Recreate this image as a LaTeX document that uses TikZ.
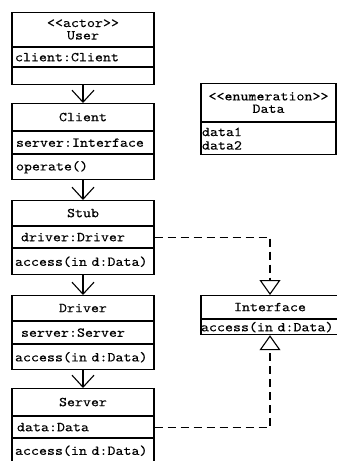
\documentclass[tikz,border=0pt]{standalone}
\usepackage{fontspec}
\setmonofont[FakeStretch=1.12, FakeBold=0.08]{lmmono10-regular.otf}
\usetikzlibrary{
    arrows.meta,  % For arrow tips
    positioning   % For stacking the compartments
}

\begin{document}
\begin{tikzpicture}[
    x=1pt, y=-1pt, % work in points, y running downwards
    font=\ttfamily\fontsize{13.6}{12.5}\selectfont,
    % One compartment of a class box
    part/.style={draw, line width=1.1pt, minimum width=142pt, inner sep=0pt, anchor=north},
    head/.style={part, align=center},
    slot/.style={part, text width=136pt, align=left, inner xsep=3pt},
    % Associations and realizations
    assoc/.style={line width=1.1pt, -{Straight Barb[length=12pt, width=22pt, line width=1.1pt]}},
    realize/.style={line width=1.1pt, dash pattern=on 8pt off 5pt,
        -{Triangle[open, length=15pt, width=21pt, line width=1.1pt]}}
]

    % Page frame
    \useasboundingbox (0,0) rectangle (337,461);

    % User (actor)
    \node[head, minimum height=34pt] (userH) at (83,12) {<<actor>>\\User};
    \node[slot, minimum height=19pt, below=0pt of userH] (userA) {client:Client};
    \node[slot, minimum height=17pt, below=0pt of userA] (userO) {};

    % Client
    \node[head, minimum height=27pt] (clientH) at (83,103) {Client};
    \node[slot, minimum height=22pt, below=0pt of clientH] (clientA) {\hspace*{1pt}server:Interface};
    \node[slot, minimum height=25pt, below=0pt of clientA] (clientO) {\hspace*{1pt}operate()};

    % Stub
    \node[head, minimum height=25pt] (stubH) at (83,200) {Stub};
    \node[slot, minimum height=21pt, below=0pt of stubH] (stubA) {\hspace*{6pt}driver:Driver};
    \node[slot, minimum height=26pt, below=0pt of stubA] (stubO) {access(in d:Data)};

    % Driver
    \node[head, minimum height=25pt] (driverH) at (83,295) {Driver};
    \node[slot, minimum height=22pt, below=0pt of driverH] (driverA) {\hspace*{6pt}server:Server};
    \node[slot, minimum height=25pt, below=0pt of driverA] (driverO) {access(in d:Data)};

    % Server
    \node[head, minimum height=27pt] (serverH) at (83,388) {Server};
    \node[slot, minimum height=21pt, below=0pt of serverH] (serverA) {\hspace*{2pt}data:Data};
    \node[slot, minimum height=24pt, below=0pt of serverA] (serverO) {access(in d:Data)};

    % Data (enumeration)
    \node[head, minimum width=135pt, minimum height=38pt] (dataH) at (268.5,83) {<<enumeration>>\\Data};
    \node[slot, minimum width=135pt, text width=133pt, inner xsep=1pt, minimum height=32pt,
          below=0pt of dataH] (dataA) {data1\\[1pt]data2};

    % Interface
    \node[head, minimum width=138pt, minimum height=23pt] (ifaceH) at (270,295) {Interface};
    \node[slot, minimum width=138pt, text width=138pt, inner xsep=0pt, minimum height=15pt,
          below=0pt of ifaceH] (ifaceO) {access(in d:Data)};

    % Calls down the chain
    \draw[assoc] (userO) -- (clientH);
    \draw[assoc] (clientO) -- (stubH);
    \draw[assoc] (stubO) -- (driverH);
    \draw[assoc] (driverO) -- (serverH);

    % Stub and Server both realize Interface
    \draw[realize] (stubA.east) -| (ifaceH.north);
    \draw[realize] (serverA.east) -| (ifaceO.south);

\end{tikzpicture}
\end{document}
